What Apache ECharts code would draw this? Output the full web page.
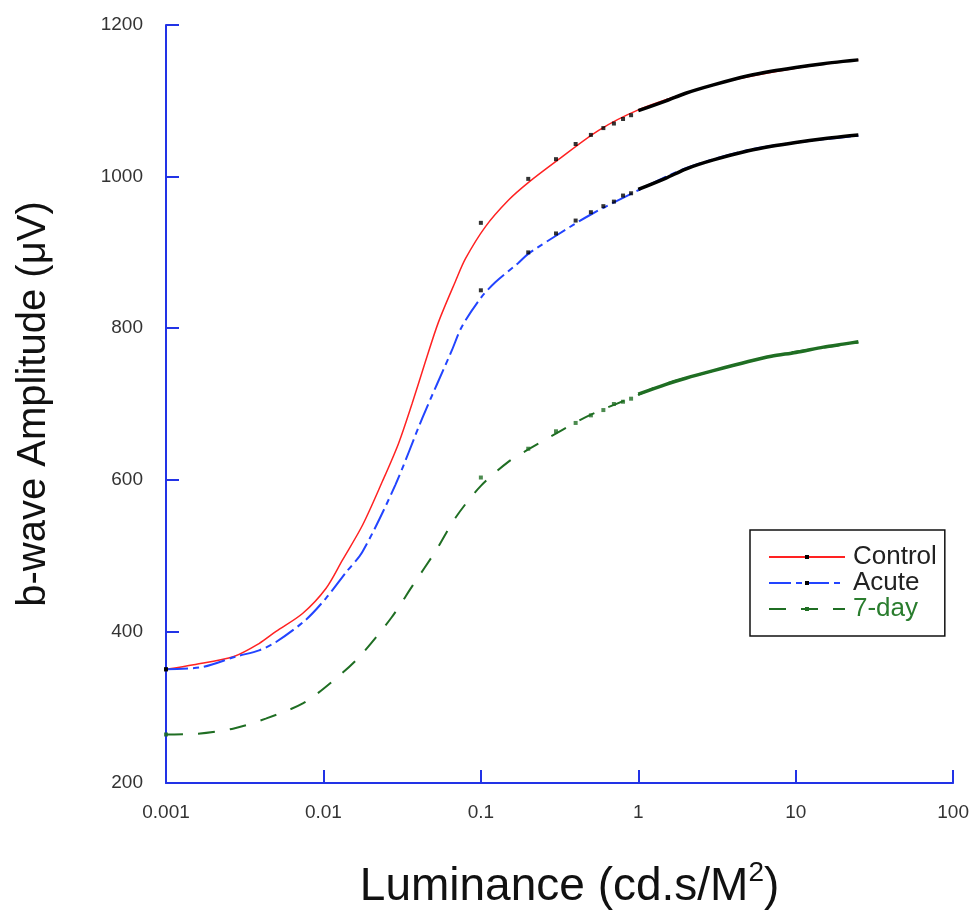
<!DOCTYPE html>
<html>
<head>
<meta charset="utf-8">
<title>b-wave amplitude vs luminance</title>
<script src="https://cdn.jsdelivr.net/npm/echarts@6/dist/echarts.min.js"></script>
<style>
  html, body { margin: 0; padding: 0; background: #fff; }
  #chart { width: 972px; height: 916px; }
</style>
</head>
<body>
<div id="chart"></div>
<script>
// fitted curves
const controlFitX = [0.001, 0.0015, 0.0027, 0.0039, 0.005, 0.0074, 0.0104, 0.0132, 0.0177, 0.0237, 0.03, 0.0365, 0.0443, 0.0538, 0.069, 0.08, 0.107, 0.15, 0.2, 0.3, 0.56, 1, 2, 3.9, 10, 25]
const controlFitY = [350, 356, 367, 384, 400, 424, 457, 494, 540, 598, 648, 700, 755, 808, 862, 892, 934, 969, 992, 1020, 1061, 1088, 1110, 1127, 1143, 1154]

const acuteFitX = [0.001, 0.0017, 0.0028, 0.0039, 0.005, 0.0077, 0.0104, 0.0138, 0.0177, 0.0286, 0.0424, 0.0655, 0.0757, 0.1, 0.124, 0.173, 0.2, 0.3, 0.5, 1, 2, 5, 10, 25]
const acuteFitY = [350, 353, 367, 375, 386, 415, 444, 477, 505, 593, 681, 771, 802, 840, 861, 886, 898, 922, 950, 982, 1011, 1035, 1045, 1054]

const dayFitX = [0.001, 0.0016, 0.0027, 0.0043, 0.0074, 0.0114, 0.017, 0.027, 0.037, 0.052, 0.069, 0.1, 0.15, 0.2, 0.33, 0.5, 1, 1.4, 2.9, 7.7, 25]
const dayFitY = [264, 265, 272, 285, 305, 334, 367, 418, 461, 507, 550, 592, 624, 640, 666, 686, 712, 725, 743, 765, 781]

// measured points (sparse part)
const pointX = [0.001, 0.1, 0.2, 0.3, 0.4, 0.5, 0.6, 0.7, 0.8, 0.9]
const controlPtY = [350, 939, 997, 1023, 1043, 1055, 1064, 1070, 1076, 1081]
const acutePtY = [350, 850, 900, 925, 942, 953, 961, 967, 975, 978]
const dayPtY = [264, 603, 641, 664, 675, 685, 692, 700, 703, 707]

// measured points (dense part, drawn as a band)
const bandX = [1, 1.5, 2, 3, 5, 7, 10, 15, 20, 25]
const controlBandY = [1087, 1100, 1110, 1121, 1133, 1139, 1144, 1149, 1152, 1154]
const acuteBandY = [983, 998, 1010, 1022, 1034, 1040, 1045, 1050, 1053, 1055]
const dayBandY = [713, 726, 734, 744, 756, 763, 768, 775, 779, 782]

const xTicks = [0.001, 0.01, 0.1, 1, 10, 100]
const yMin = 200
const yMax = 1200

const RED = '#ff2222'
const BLUE = '#2244ff'
const GREEN = '#1f6e23'
const AXIS = '#2233e6'

const zip = (xs, ys) => xs.map((x, i) => [x, ys[i]])

function fitSeries(name, xs, ys, color, type, width) {
  return {
    name,
    type: 'line',
    data: zip(xs, ys),
    smooth: 0.3,
    showSymbol: false,
    symbol: 'rect',
    lineStyle: { color, width, type },
    itemStyle: { color },
    z: 2
  }
}

function pointSeries(name, ys, color) {
  return {
    name,
    type: 'scatter',
    data: zip(pointX, ys),
    symbol: 'rect',
    symbolSize: 4,
    itemStyle: { color },
    z: 4
  }
}

function bandSeries(name, ys, color) {
  return {
    name,
    type: 'line',
    data: zip(bandX, ys),
    smooth: 0.3,
    showSymbol: false,
    lineStyle: { color, width: 3.5 },
    itemStyle: { color },
    z: 3
  }
}

const chart = echarts.init(document.getElementById('chart'))

chart.setOption({
  animation: false,
  textStyle: { fontFamily: 'Liberation Sans, Arial, sans-serif' },
  grid: { left: 166, right: 15, top: 25, bottom: 133 },
  legend: {
    orient: 'vertical',
    left: 750,
    top: 530,
    padding: [14, 8, 14, 18],
    itemWidth: 76,
    itemHeight: 5,
    itemGap: 0,
    borderColor: '#111',
    borderWidth: 1.5,
    textStyle: { fontSize: 26, lineHeight: 24, color: '#222', padding: [0, 0, 0, 3] },
    data: [
      { name: 'Control', itemStyle: { color: '#000' } },
      { name: 'Acute', itemStyle: { color: '#000' } },
      { name: '7-day', itemStyle: { color: GREEN }, textStyle: { color: '#2a7d2e' } }
    ]
  },
  xAxis: {
    type: 'log',
    logBase: 10,
    min: xTicks[0],
    max: xTicks[xTicks.length - 1],
    name: 'Luminance (cd.s/M{sup|2})',
    nameLocation: 'middle',
    nameGap: 76,
    nameTextStyle: {
      fontSize: 46,
      color: '#111',
      padding: [0, 0, 0, 20],
      rich: {
        sup: { fontSize: 28, color: '#111', padding: [0, 0, 28, 0] }
      }
    },
    axisLine: { lineStyle: { color: AXIS, width: 2 } },
    axisTick: { inside: true, length: 13, lineStyle: { color: AXIS, width: 2 } },
    minorTick: { show: false },
    splitLine: { show: false },
    axisLabel: {
      fontSize: 19,
      color: '#333',
      margin: 20,
      formatter: (v) => String(+Number(v).toPrecision(2))
    }
  },
  yAxis: {
    type: 'value',
    min: yMin,
    max: yMax,
    interval: 200,
    name: 'b-wave Amplitude (\u03bcV)',
    nameLocation: 'middle',
    nameGap: 112,
    nameTextStyle: { fontSize: 40, color: '#111' },
    axisLine: { show: true, lineStyle: { color: AXIS, width: 2 } },
    axisTick: { show: true, inside: true, length: 13, lineStyle: { color: AXIS, width: 2 } },
    splitLine: { show: false },
    axisLabel: { fontSize: 19, color: '#333', margin: 23, formatter: (v) => String(v) }
  },
  series: [
    fitSeries('Control', controlFitX, controlFitY, RED, 'solid', 1.5),
    fitSeries('Acute', acuteFitX, acuteFitY, BLUE, [22, 5, 6, 5], 2),
    fitSeries('7-day', dayFitX, dayFitY, GREEN, [17, 15], 2),
    pointSeries('Control data', controlPtY, '#000'),
    pointSeries('Acute data', acutePtY, '#000'),
    pointSeries('7-day data', dayPtY, GREEN),
    bandSeries('Control band', controlBandY, '#000'),
    bandSeries('Acute band', acuteBandY, '#000'),
    bandSeries('7-day band', dayBandY, GREEN)
  ]
})

window.addEventListener('resize', () => chart.resize())
</script>
</body>
</html>
